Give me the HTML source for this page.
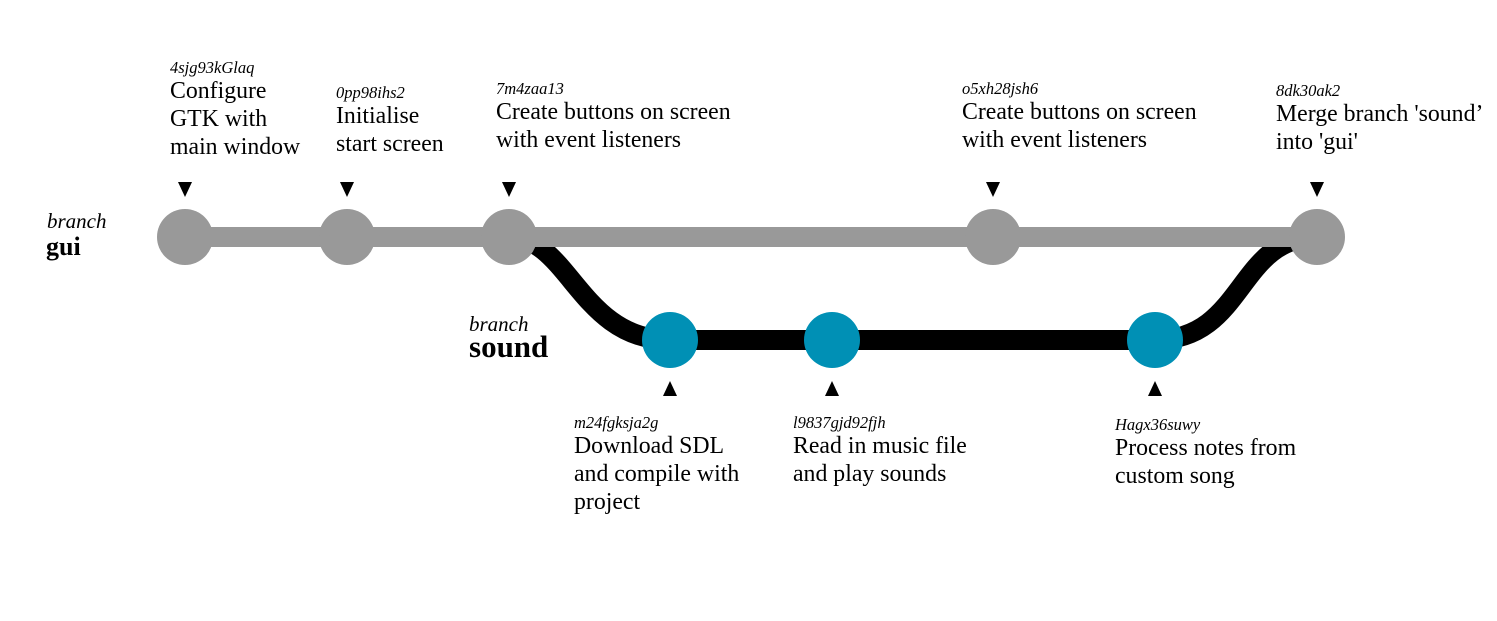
<!DOCTYPE html>
<html><head><meta charset="utf-8"><style>
body{margin:0;background:#fff;width:1497px;height:621px;overflow:hidden}
svg{display:block;font-family:"Liberation Serif",serif}
.h{font-style:italic;font-size:16.5px}
.t{font-size:23.8px}
</style></head><body>
<svg id="c" width="1497" height="621" viewBox="0 0 1497 621">
<text x="47" y="228" font-style="italic" font-size="21">branch</text>
<text x="46" y="255" font-weight="bold" font-size="26">gui</text>
<text x="469" y="331" font-style="italic" font-size="21">branch</text>
<text x="469" y="357" font-weight="bold" font-size="31">sound</text>
</svg>
<script>
const guiX=[185,347,509,993,1317];
const guiHash=["4sjg93kGlaq","0pp98ihs2","7m4zaa13","o5xh28jsh6","8dk30ak2"];
const guiMsg=[["Configure","GTK with","main window"],["Initialise","start screen"],["Create buttons on screen","with event listeners"],["Create buttons on screen","with event listeners"],["Merge branch 'sound’","into 'gui'"]];
const guiHashY=[73,98,94,94,96];
const soundX=[670,832,1155];
const soundHash=["m24fgksja2g","l9837gjd92fjh","Hagx36suwy"];
const soundMsg=[["Download SDL","and compile with","project"],["Read in music file","and play sounds"],["Process notes from","custom song"]];
const soundHashY=[428,428,430];
const guiLabelOff=[-15,-11,-13,-31,-41];
const soundLabelOff=[-96,-39,-40];
const GY=237,SY=340,NS="http://www.w3.org/2000/svg";
const svg=document.getElementById('c');
function mk(t,a,txt){const e=document.createElementNS(NS,t);for(const k in a)e.setAttribute(k,a[k]);if(txt!=null)e.textContent=txt;svg.appendChild(e);return e;}
let p=mk('path',{d:`M${guiX[2]},${GY} C${guiX[2]+60},${GY} ${soundX[0]-90},${SY} ${soundX[0]},${SY} L${soundX[soundX.length-1]},${SY} C${soundX[soundX.length-1]+90},${SY} ${guiX[4]-80},${GY} ${guiX[4]},${GY}`,fill:'none',stroke:'#000','stroke-width':20});


let g=mk('line',{x1:guiX[0],y1:GY,x2:guiX[4],y2:GY,stroke:'#999','stroke-width':20});


guiX.forEach((x,i)=>{
 let c=mk('circle',{cx:x,cy:GY,r:28,fill:'#999'});
 
 
 let a=mk('path',{d:`M${x-7},${GY-55} L${x+7},${GY-55} L${x},${GY-40} Z`,fill:'#000'});
 
 
 let lx=x+guiLabelOff[i];
 let h=mk('text',{x:lx,y:guiHashY[i],class:'h'},guiHash[i]);
 
 
 guiMsg[i].forEach((l,j)=>{let t=mk('text',{x:lx,y:guiHashY[i]+25+j*28,class:'t'},l);
 
 });
});
soundX.forEach((x,i)=>{
 let c=mk('circle',{cx:x,cy:SY,r:28,fill:'#0090b5'});
 
 
 let a=mk('path',{d:`M${x-7},${SY+56} L${x+7},${SY+56} L${x},${SY+41} Z`,fill:'#000'});
 
 
 let lx=x+soundLabelOff[i];
 let h=mk('text',{x:lx,y:soundHashY[i],class:'h'},soundHash[i]);
 
 
 soundMsg[i].forEach((l,j)=>{let t=mk('text',{x:lx,y:soundHashY[i]+25+j*28,class:'t'},l);
 
 });
});
</script>
</body></html>
